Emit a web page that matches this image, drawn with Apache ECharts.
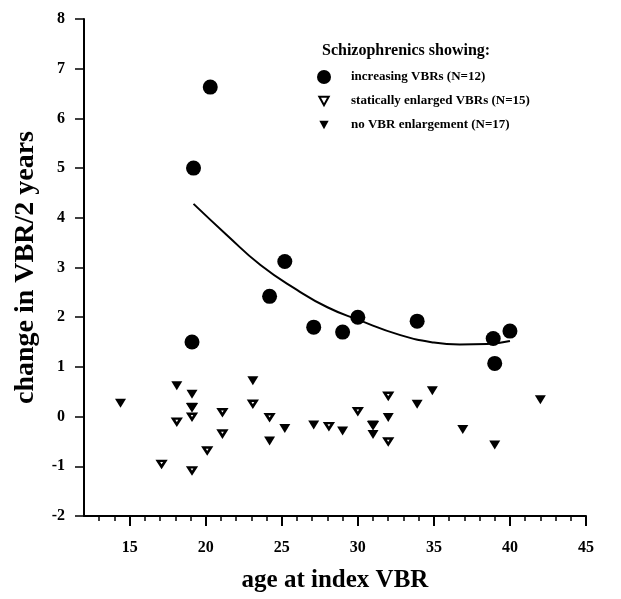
<!DOCTYPE html>
<html>
<head>
<meta charset="utf-8">
<script src="https://cdn.jsdelivr.net/npm/echarts@6/dist/echarts.min.js"></script>
<style>
  html, body { margin: 0; padding: 0; background: #fff; }
  #chart { width: 621px; height: 599px; }
</style>
</head>
<body>
<div id="chart"></div>
<script>
// values
const incAge = [20.3, 19.2, 25.2, 24.2, 19.1, 27.1, 29.0, 30.0, 33.9, 38.9, 40.0, 39.0];
const incChange = [6.63, 5.0, 3.12, 2.42, 1.5, 1.8, 1.7, 2.0, 1.92, 1.57, 1.72, 1.07];

const staticAge = [17.1, 18.1, 19.1, 19.1, 20.1, 21.1, 21.1, 23.1, 24.2, 28.1, 30.0, 32.0, 32.0, 19.1, 31.0];
const staticChange = [-0.95, -0.1, 0.0, -1.08, -0.68, 0.09, -0.34, 0.26, -0.01, -0.19, 0.11, 0.42, -0.5, 0.19, -0.17];

const noneAge = [14.4, 18.1, 19.1, 19.1, 23.1, 24.2, 25.2, 27.1, 29.0, 31.0, 31.0, 32.0, 33.9, 34.9, 36.9, 39.0, 42.0];
const noneChange = [0.27, 0.62, 0.45, 0.19, 0.72, -0.49, -0.24, -0.17, -0.29, -0.17, -0.36, -0.02, 0.25, 0.52, -0.26, -0.57, 0.34];

// fitted curve
const fitAge = [19.2, 21.4, 23.6, 26.0, 28.0, 30.0, 32.8, 35.0, 36.7, 38.5, 40.0];
const fitChange = [4.28, 3.65, 3.05, 2.55, 2.2, 1.95, 1.64, 1.49, 1.45, 1.46, 1.52];

const xMajorTicks = [15, 20, 25, 30, 35, 40, 45];
const xMinorTicks = [13, 14, 15, 16, 17, 18, 19, 20, 21, 22, 23, 24, 25, 26, 27, 28, 29, 30,
                     31, 32, 33, 34, 35, 36, 37, 38, 39, 40, 41, 42, 43, 44, 45];

const seriesNames = [
    'increasing VBRs (N=12)',
    'statically enlarged VBRs (N=15)',
    'no VBR enlargement (N=17)'
];

const FONT = '"Liberation Serif", "DejaVu Serif", serif';
const TRI = 'path://M0,0L10,0L5,9Z';
// same triangle with blank margin so the legend icon stays small
const TRI_LEGEND = 'path://M-2.5,-3L-2.5,-3M0,0L10,0L5,9ZM12.5,12L12.5,12';

const zip = (xs, ys) => xs.map((x, i) => [x, ys[i]]);

const chart = echarts.init(document.getElementById('chart'));

const option = {
    backgroundColor: '#fff',
    animation: false,
    title: {
        text: 'Schizophrenics showing:',
        left: 317,
        top: 38,
        textStyle: { fontFamily: FONT, fontSize: 16, fontWeight: 'bold', color: '#000' }
    },
    legend: {
        orient: 'vertical',
        left: 311,
        top: 65,
        itemWidth: 44,
        itemHeight: 14,
        itemGap: 9,
        textStyle: { fontFamily: FONT, fontSize: 13, fontWeight: 'bold', color: '#000' },
        data: [
            { name: seriesNames[0], icon: 'circle' },
            { name: seriesNames[1], icon: TRI_LEGEND },
            { name: seriesNames[2], icon: TRI_LEGEND }
        ]
    },
    grid: {
        left: 84,
        right: 35,
        top: 19,
        bottom: 83,
        containLabel: false,
        outerBoundsMode: 'none'
    },
    xAxis: [
        {
            type: 'value',
            min: 12,
            max: 45,
            splitLine: { show: false },
            axisLine: { show: true, onZero: false, lineStyle: { color: '#000', width: 2 } },
            axisTick: {
                show: true,
                customValues: xMinorTicks,
                length: 5,
                lineStyle: { color: '#000', width: 1.5 }
            },
            axisLabel: {
                customValues: xMajorTicks,
                margin: 24,
                fontFamily: FONT,
                fontSize: 16,
                fontWeight: 'bold',
                color: '#000'
            },
            name: 'age at index VBR',
            nameLocation: 'middle',
            nameGap: 52,
            nameTextStyle: { fontFamily: FONT, fontSize: 25, fontWeight: 'bold', color: '#000' }
        },
        {
            type: 'value',
            min: 12,
            max: 45,
            position: 'bottom',
            offset: 0,
            splitLine: { show: false },
            axisLine: { show: false, onZero: false },
            axisTick: {
                show: true,
                customValues: xMajorTicks,
                length: 10,
                lineStyle: { color: '#000', width: 2 }
            },
            axisLabel: { show: false }
        }
    ],
    yAxis: {
        type: 'value',
        min: -2,
        max: 8,
        interval: 1,
        splitLine: { show: false },
        axisLine: { show: true, onZero: false, lineStyle: { color: '#000', width: 2 } },
        axisTick: { show: true, length: 9, lineStyle: { color: '#000', width: 1.5 } },
        axisLabel: {
            margin: 19,
            fontFamily: FONT,
            fontSize: 16,
            fontWeight: 'bold',
            color: '#000'
        },
        name: 'change in VBR/2 years',
        nameLocation: 'middle',
        nameGap: 44,
        nameTextStyle: { fontFamily: FONT, fontSize: 28, fontWeight: 'bold', color: '#000' }
    },
    series: [
        {
            name: seriesNames[1],
            type: 'scatter',
            symbol: TRI,
            symbolKeepAspect: true,
            symbolSize: [7.5, 6.5],
            itemStyle: { color: '#fff', borderColor: '#000', borderWidth: 2.6, opacity: 1 },
            data: zip(staticAge, staticChange),
            z: 2
        },
        {
            name: seriesNames[2],
            type: 'scatter',
            symbol: TRI,
            symbolKeepAspect: true,
            symbolSize: [11, 10],
            itemStyle: { color: '#000', opacity: 1 },
            data: zip(noneAge, noneChange),
            z: 3
        },
        {
            name: seriesNames[0],
            type: 'scatter',
            symbol: 'circle',
            symbolSize: 15,
            itemStyle: { color: '#000', opacity: 1 },
            data: zip(incAge, incChange),
            z: 4
        },
        {
            name: 'fit',
            type: 'line',
            smooth: true,
            showSymbol: false,
            symbol: 'none',
            lineStyle: { color: '#000', width: 2 },
            data: zip(fitAge, fitChange),
            z: 5
        }
    ]
};

chart.setOption(option);
</script>
</body>
</html>
